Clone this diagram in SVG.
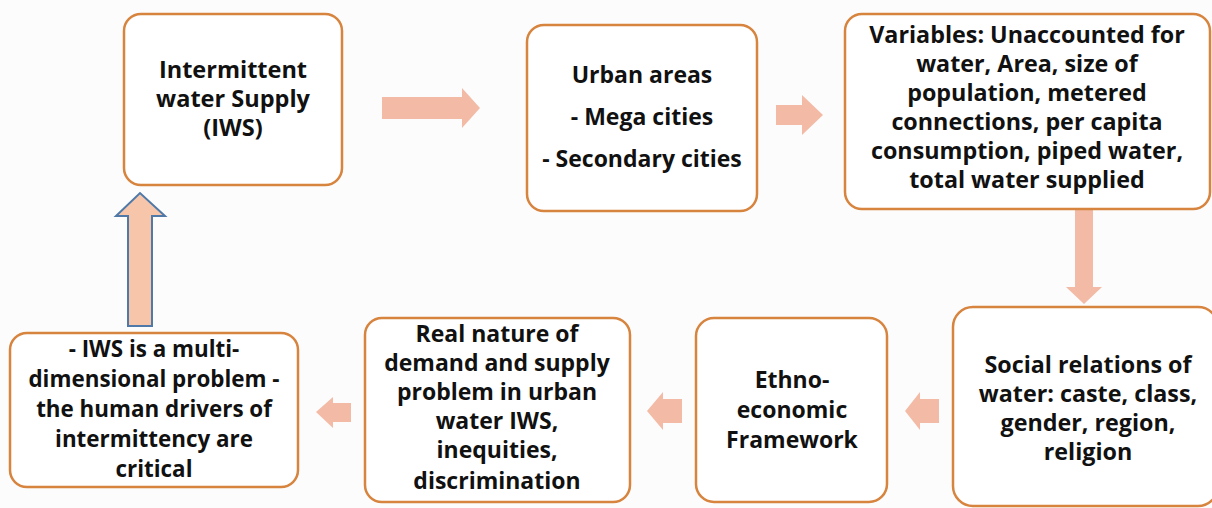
<svg xmlns="http://www.w3.org/2000/svg" width="1212" height="508" viewBox="0 0 1212 508">
  <style>
    .box { fill: #ffffff; stroke: #d7843f; stroke-width: 2.5; }
    .lbl { font-family: "Open Sans", Lato, "Liberation Sans", sans-serif; font-weight: 700; fill: #111111; text-anchor: middle; font-variant-ligatures: none; font-size: 23px; }
    .flow { fill: #f3bba6; stroke: none; }
    .back { fill: #f7c6aa; stroke: #4f79a8; stroke-width: 2; stroke-linejoin: miter; }
  </style>
  <rect width="1212" height="508" fill="#fcfcfc"/>

  <!-- connectors -->
  <g id="connectors">
    <polygon class="flow" points="382,97 462,97 462,88 480,108 462,128 462,119 382,119"/>
    <polygon class="flow" points="776,105 802,105 802,95 823,115 802,135 802,125 776,125"/>
    <polygon class="flow" points="1075,210 1093,210 1093,287 1102,287 1084,304 1066,287 1075,287"/>
    <polygon class="flow" points="939,399 920,399 920,392 905,411 920,430 920,423 939,423"/>
    <polygon class="flow" points="682,399 663,399 663,392 647,411 663,430 663,423 682,423"/>
    <polygon class="flow" points="351,403 333,403 333,397 316,412 333,428 333,422 351,422"/>
    <polygon class="back" points="128,326 128,216 116,216 140,193 165,216 152,216 152,326"/>
  </g>

  <g id="node-iws">
    <rect class="box" x="124" y="14" width="218" height="171" rx="17"/>
    <text class="lbl" style="font-size:23.5px" x="233" y="78">Intermittent</text>
    <text class="lbl" style="font-size:23.5px" x="233" y="107">water Supply</text>
    <text class="lbl" style="font-size:23.5px" x="233" y="136">(IWS)</text>
  </g>

  <g id="node-urban">
    <rect class="box" x="527" y="25" width="230" height="186" rx="17"/>
    <text class="lbl" x="642" y="83">Urban areas</text>
    <text class="lbl" x="642" y="125">- Mega cities</text>
    <text class="lbl" x="642" y="167">- Secondary cities</text>
  </g>

  <g id="node-variables">
    <rect class="box" x="845" y="14" width="365" height="195" rx="17"/>
    <text class="lbl" style="font-size:23.3px" x="1027" y="43">Variables: Unaccounted for</text>
    <text class="lbl" style="font-size:23.3px" x="1027" y="72">water, Area, size of</text>
    <text class="lbl" style="font-size:23.3px" x="1027" y="101">population, metered</text>
    <text class="lbl" style="font-size:23.3px" x="1027" y="130">connections, per capita</text>
    <text class="lbl" style="font-size:23.3px" x="1027" y="159">consumption, piped water,</text>
    <text class="lbl" style="font-size:23.3px" x="1027" y="188">total water supplied</text>
  </g>

  <g id="node-social">
    <rect class="box" x="953" y="307" width="265" height="199" rx="20"/>
    <text class="lbl" style="font-size:23.3px" x="1088" y="373">Social relations of</text>
    <text class="lbl" style="font-size:23.3px" x="1088" y="402">water: caste, class,</text>
    <text class="lbl" style="font-size:23.3px" x="1088" y="431">gender, region,</text>
    <text class="lbl" style="font-size:23.3px" x="1088" y="460">religion</text>
  </g>

  <g id="node-ethno">
    <rect class="box" x="696" y="318" width="191" height="184" rx="18"/>
    <text class="lbl" x="792" y="388">Ethno-</text>
    <text class="lbl" x="792" y="418">economic</text>
    <text class="lbl" x="792" y="448">Framework</text>
  </g>

  <g id="node-real">
    <rect class="box" x="365" y="318" width="265" height="184" rx="17"/>
    <text class="lbl" x="497" y="342">Real nature of</text>
    <text class="lbl" x="497" y="371">demand and supply</text>
    <text class="lbl" x="497" y="400">problem in urban</text>
    <text class="lbl" x="497" y="429">water IWS,</text>
    <text class="lbl" x="497" y="458">inequities,</text>
    <text class="lbl" x="497" y="489">discrimination</text>
  </g>

  <g id="node-multidimensional">
    <rect class="box" x="10" y="333" width="288" height="154" rx="17"/>
    <text class="lbl" style="font-size:22.4px" x="154" y="357">- IWS is a multi-</text>
    <text class="lbl" style="font-size:22.4px" x="154" y="387">dimensional problem -</text>
    <text class="lbl" style="font-size:22.4px" x="154" y="417">the human drivers of</text>
    <text class="lbl" style="font-size:22.4px" x="154" y="447">intermittency are</text>
    <text class="lbl" style="font-size:22.4px" x="154" y="477">critical</text>
  </g>
</svg>
